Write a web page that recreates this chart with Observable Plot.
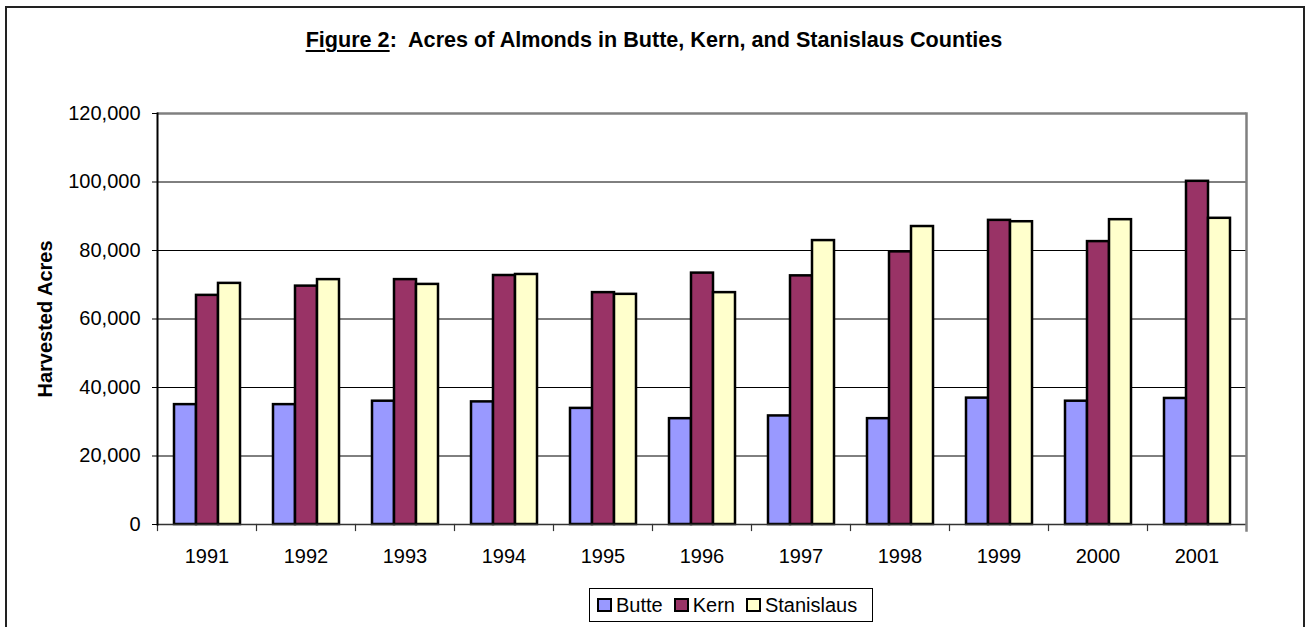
<!DOCTYPE html>
<html>
<head>
<meta charset="utf-8">
<script src="https://cdn.jsdelivr.net/npm/d3@7"></script>
<script src="https://cdn.jsdelivr.net/npm/@observablehq/plot@0.6"></script>
<style>
html, body { margin: 0; padding: 0; background: #fff; }
#page { position: relative; width: 1308px; height: 627px; overflow: hidden; font-family: Arial, "Liberation Sans", sans-serif; color: #000; }
#border { position: absolute; left: 5px; top: 6px; width: 1300px; height: 660px; border: 2px solid #222; box-sizing: border-box; }
#title { position: absolute; left: 0; width: 1308px; top: 27px; text-align: center; font-weight: bold; font-size: 21.6px; line-height: 26px; white-space: pre; }
#title u { text-decoration-thickness: 2px; text-underline-offset: 3px; }
#chart { position: absolute; left: 0; top: 80px; }
#legend { position: absolute; left: 589px; top: 588px; width: 284px; height: 34px; border: 1px solid #000; box-sizing: border-box; display: flex; align-items: center; padding-left: 7px; font-size: 20px; background: #fff; }
.item { display: flex; align-items: center; margin-right: 11px; }
.sw { width: 15px; height: 14px; border: 2px solid #000; box-sizing: border-box; margin-right: 4px; }
</style>
</head>
<body>
<div id="page">
  <div id="border"></div>
  <div id="title"><u>Figure 2</u>:  Acres of Almonds in Butte, Kern, and Stanislaus Counties</div>
  <div id="chart"></div>
  <div id="legend"></div>
</div>
<script>
// ---- data ----
const years = ["1991", "1992", "1993", "1994", "1995", "1996", "1997", "1998", "1999", "2000", "2001"];
const series = ["Butte", "Kern", "Stanislaus"];
const butte = [35000, 35000, 36000, 35800, 33900, 30900, 31700, 30900, 36900, 36000, 36800];
const kern = [66900, 69600, 71500, 72700, 67700, 73400, 72600, 79600, 88800, 82600, 100200];
const stanislaus = [70400, 71500, 70100, 73000, 67200, 67700, 82900, 87000, 88400, 89000, 89400];
const colors = ["#9999FF", "#993366", "#FFFFCC"];
const yTicks = [0, 20000, 40000, 60000, 80000, 100000, 120000];
const yLabel = "Harvested Acres";

const values = [butte, kern, stanislaus];
const rows = years.flatMap((yr, i) => series.map((s, j) => ({year: yr, series: s, value: values[j][i]})));

const W = 1308, H = 500, mT = 33, mB = 56, mL = 155, mR = 60;
const plotH = H - mT - mB;

const chart = Plot.plot({
  width: W,
  height: H,
  marginLeft: mL,
  marginRight: mR,
  marginTop: mT,
  marginBottom: mB,
  style: {fontFamily: 'Arial, "Liberation Sans", sans-serif', fontSize: "20px", color: "#000", background: "transparent", overflow: "visible"},
  fx: {domain: years, paddingInner: 0, paddingOuter: 0, label: null},
  x: {domain: series, paddingInner: 0, paddingOuter: 0.75, axis: null},
  y: {domain: [yTicks[0], yTicks[yTicks.length - 1]]},
  color: {domain: series, range: colors},
  marks: [
    Plot.ruleY(yTicks.slice(1, -1), {stroke: "#000", strokeWidth: 1}),
    Plot.barY(rows, {fx: "year", x: "series", y: "value", fill: "series", stroke: "#000", strokeWidth: 2.5}),
    Plot.ruleY([yTicks[yTicks.length - 1]], {stroke: "#808080", strokeWidth: 2.5}),
    Plot.ruleY([0], {stroke: "#333", strokeWidth: 1.5}),
    Plot.frame({anchor: "left", insetTop: plotH, insetBottom: -6, stroke: "#333", strokeWidth: 1.2}),
    Plot.frame({anchor: "right", facetAnchor: "right", insetBottom: -6, stroke: "#808080", strokeWidth: 2.5}),
    Plot.frame({anchor: "left", facetAnchor: "left", stroke: "#000", strokeWidth: 2}),
    Plot.axisY({ticks: yTicks, tickSize: 5, tickPadding: 12, tickFormat: d3.format(","), label: null, fontSize: 20}),
    Plot.axisY({ticks: [], label: yLabel, labelAnchor: "center", labelOffset: 120, labelArrow: false, fontSize: 20, fontWeight: "bold"}),
    Plot.axisFx({anchor: "bottom", tickSize: 0, tickPadding: 24, label: null, fontSize: 20})
  ]
});
document.getElementById("chart").appendChild(chart);

// legend
const legend = d3.select("#legend");
series.forEach((s, j) => {
  const it = legend.append("div").attr("class", "item");
  it.append("div").attr("class", "sw").style("background", colors[j]);
  it.append("span").text(s);
});
</script>
</body>
</html>
